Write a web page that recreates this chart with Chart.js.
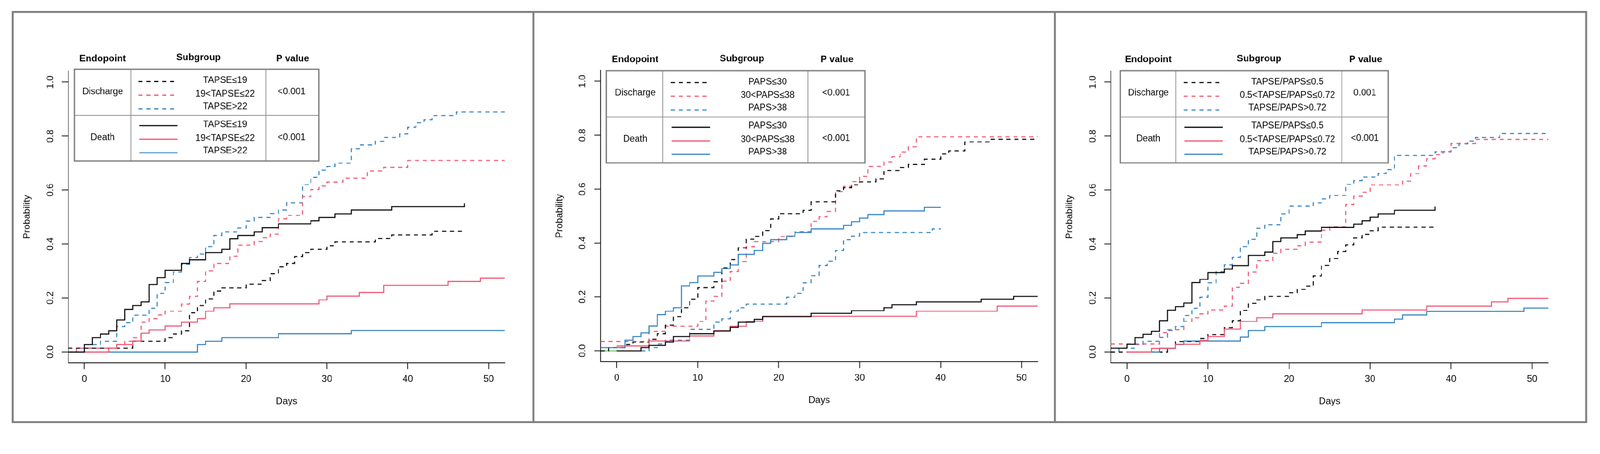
<!DOCTYPE html>
<html>
<head>
<meta charset="utf-8">
<script src="https://cdn.jsdelivr.net/npm/chart.js@4.4.0/dist/chart.umd.min.js"></script>
<style>
  html, body { margin: 0; padding: 0; background: #fff; overflow: hidden; }
  #wrap { width: 4248px; height: 1161px; position: absolute; left: 0; top: 0; transform-origin: 0 0; background: #fff; }
  canvas { position: absolute; top: 0; }
  .frame { position: absolute; border: 5px solid #808080; box-sizing: border-box; }
  .sep { position: absolute; top: 29px; width: 5px; height: 1093px; background: #808080; }
</style>
</head>
<body>
<div id="wrap">
<canvas id="c1" width="1417" height="1161" style="left:0px"></canvas>
<canvas id="c2" width="1384" height="1161" style="left:1417px"></canvas>
<canvas id="c3" width="1447" height="1161" style="left:2801px"></canvas>
<div class="frame" style="left:31px;top:29px;width:4183px;height:1093px"></div>
<div class="sep" style="left:1414px"></div>
<div class="sep" style="left:2798px"></div>
</div>
<script>
// fit the 4248x1161 drawing into whatever viewport we get
var SCALE = Math.min(window.innerWidth / 4248, window.innerHeight / 1161);
if (!(SCALE > 0)) SCALE = 1;
if (Math.abs(SCALE - 1) > 0.001) {
    document.getElementById("wrap").style.transform = "scale(" + SCALE + ")";
}

// ticks / labels
const xTicks = [0, 10, 20, 30, 40, 50];
const xTickLabels = ["0", "10", "20", "30", "40", "50"];
const yTicks = [0, 0.2, 0.4, 0.6, 0.8, 1.0];
const yTickLabels = ["0.0", "0.2", "0.4", "0.6", "0.8", "1.0"];
const xTitle = "Days";
const yTitle = "Probability";
const headers = ["Endopoint", "Subgroup", "P value"];
const rowNames = ["Discharge", "Death"];
const p1Groups = ["TAPSE≤19", "19<TAPSE≤22", "TAPSE>22"];
const p2Groups = ["PAPS≤30", "30<PAPS≤38", "PAPS>38"];
const p3Groups = ["TAPSE/PAPS≤0.5", "0.5<TAPSE/PAPS≤0.72", "TAPSE/PAPS>0.72"];
const p1P = ["<0.001", "<0.001"];
const p2P = ["<0.001", "<0.001"];
const p3P = ["0.001", "<0.001"];

// panel 1: TAPSE
const p1DisT1 = [-2, 6, 10, 11, 12, 13, 14, 15, 16, 17, 20, 22, 23, 24, 25, 26, 27, 28, 30, 31, 36, 38, 43, 47];
const p1DisV1 = [0.014, 0.040, 0.053, 0.066, 0.079, 0.145, 0.172, 0.197, 0.225, 0.238, 0.251, 0.264, 0.290, 0.316, 0.328, 0.354, 0.368, 0.380, 0.394, 0.408, 0.420, 0.434, 0.447, 0.447];
const p1DisT2 = [-2, -1, 4, 5, 6, 7, 8, 9, 10, 12, 13, 14, 15, 16, 18, 19, 21, 22, 23, 24, 25, 27, 28, 29, 30, 32, 35, 37, 40, 52];
const p1DisV2 = [0, 0.014, 0.027, 0.040, 0.053, 0.110, 0.124, 0.137, 0.151, 0.177, 0.206, 0.261, 0.300, 0.328, 0.355, 0.396, 0.409, 0.423, 0.437, 0.493, 0.506, 0.575, 0.602, 0.615, 0.630, 0.644, 0.671, 0.684, 0.710, 0.710];
const p1DisT3 = [-2, 0, 1, 2, 4, 5, 6, 8, 9, 10, 11, 12, 13, 14, 15, 16, 17, 19, 20, 21, 23, 24, 25, 27, 28, 29, 30, 31, 33, 34, 36, 37, 39, 40, 41, 42, 43, 46, 52];
const p1DisV3 = [0, 0.014, 0.027, 0.040, 0.094, 0.108, 0.136, 0.162, 0.217, 0.257, 0.296, 0.325, 0.350, 0.363, 0.391, 0.432, 0.445, 0.459, 0.485, 0.498, 0.513, 0.526, 0.553, 0.620, 0.647, 0.674, 0.687, 0.700, 0.753, 0.767, 0.781, 0.795, 0.808, 0.833, 0.849, 0.861, 0.876, 0.889, 0.889];
const p1DthT1 = [-2, 0, 1, 2, 3, 4, 5, 6, 7, 8, 9, 10, 12, 13, 15, 17, 18, 19, 21, 22, 24, 28, 29, 31, 33, 38, 47];
const p1DthV1 = [0, 0.027, 0.053, 0.066, 0.079, 0.119, 0.158, 0.172, 0.185, 0.250, 0.276, 0.302, 0.328, 0.341, 0.368, 0.380, 0.419, 0.432, 0.445, 0.460, 0.475, 0.486, 0.498, 0.512, 0.526, 0.538, 0.551];
const p1DthT2 = [-2, 3, 4, 6, 7, 8, 10, 12, 14, 15, 16, 18, 29, 30, 34, 37, 45, 49, 52];
const p1DthV2 = [0, 0.014, 0.027, 0.041, 0.069, 0.082, 0.096, 0.110, 0.124, 0.151, 0.164, 0.178, 0.193, 0.207, 0.220, 0.247, 0.261, 0.274, 0.274];
const p1DthT3 = [0, 14, 15, 17, 24, 33, 52];
const p1DthV3 = [0, 0.027, 0.040, 0.053, 0.067, 0.080, 0.080];

// panel 2: PAPS
const p2DisT1 = [-2, -1, 1, 2, 4, 5, 6, 7, 8, 9, 10, 12, 13, 14, 15, 16, 17, 18, 19, 20, 23, 24, 27, 28, 29, 30, 32, 33, 35, 36, 38, 40, 41, 43, 46, 52];
const p2DisV1 = [0, 0.012, 0.023, 0.032, 0.043, 0.063, 0.095, 0.127, 0.160, 0.192, 0.235, 0.256, 0.308, 0.338, 0.382, 0.414, 0.425, 0.446, 0.489, 0.509, 0.521, 0.553, 0.594, 0.605, 0.616, 0.627, 0.638, 0.669, 0.680, 0.691, 0.711, 0.730, 0.742, 0.775, 0.785, 0.785];
const p2DisT2 = [-2, 4, 6, 10, 11, 12, 13, 14, 15, 16, 17, 20, 22, 24, 25, 26, 27, 28, 29, 30, 31, 33, 34, 35, 36, 37, 52];
const p2DisV2 = [0.035, 0.073, 0.091, 0.109, 0.184, 0.202, 0.258, 0.294, 0.331, 0.387, 0.405, 0.424, 0.442, 0.480, 0.497, 0.517, 0.591, 0.610, 0.628, 0.647, 0.684, 0.701, 0.720, 0.738, 0.757, 0.794, 0.794];
const p2DisT3 = [3, 4, 5, 6, 9, 12, 13, 14, 15, 16, 21, 22, 23, 24, 25, 26, 27, 28, 29, 30, 39, 40];
const p2DisV3 = [0, 0.012, 0.025, 0.040, 0.080, 0.106, 0.119, 0.147, 0.160, 0.173, 0.199, 0.213, 0.252, 0.279, 0.317, 0.332, 0.372, 0.412, 0.426, 0.439, 0.452, 0.452];
const p2DthT1 = [0, 3, 4, 6, 7, 9, 12, 14, 15, 17, 18, 24, 29, 33, 34, 37, 45, 49, 52];
const p2DthV1 = [0, 0.012, 0.020, 0.033, 0.053, 0.063, 0.074, 0.087, 0.106, 0.117, 0.127, 0.139, 0.149, 0.160, 0.171, 0.181, 0.192, 0.202, 0.202];
const p2DthT2 = [0, 4, 9, 12, 14, 16, 18, 37, 47, 52];
const p2DthV2 = [0.018, 0.037, 0.055, 0.075, 0.091, 0.109, 0.128, 0.147, 0.166, 0.166];
const p2DthT3 = [-2, 1, 2, 3, 4, 5, 6, 7, 8, 9, 10, 12, 13, 14, 15, 17, 18, 19, 21, 22, 24, 28, 29, 30, 31, 33, 38, 40];
const p2DthV3 = [0.012, 0.040, 0.053, 0.066, 0.092, 0.134, 0.147, 0.160, 0.241, 0.253, 0.278, 0.291, 0.305, 0.319, 0.358, 0.372, 0.399, 0.412, 0.426, 0.439, 0.452, 0.466, 0.479, 0.492, 0.506, 0.519, 0.532, 0.532];
const p2ExtraT = [-2, 0];
const p2ExtraV = [0, 0];

// panel 3: TAPSE/PAPS
const p3DisT1 = [-2, 5, 6, 9, 10, 12, 13, 14, 15, 16, 17, 20, 21, 22, 23, 24, 25, 26, 27, 28, 29, 30, 31, 38];
const p3DisV1 = [0, 0.013, 0.039, 0.050, 0.064, 0.090, 0.116, 0.154, 0.180, 0.193, 0.206, 0.219, 0.232, 0.244, 0.282, 0.321, 0.346, 0.372, 0.397, 0.422, 0.436, 0.449, 0.462, 0.462];
const p3DisT2 = [-2, 4, 5, 7, 8, 9, 10, 12, 13, 14, 15, 16, 18, 19, 21, 22, 24, 25, 27, 28, 29, 30, 34, 35, 36, 37, 38, 39, 40, 43, 52];
const p3DisV2 = [0.029, 0.071, 0.083, 0.113, 0.127, 0.141, 0.156, 0.170, 0.240, 0.254, 0.296, 0.338, 0.366, 0.380, 0.394, 0.407, 0.451, 0.464, 0.547, 0.577, 0.592, 0.619, 0.633, 0.661, 0.689, 0.716, 0.731, 0.743, 0.772, 0.788, 0.788];
const p3DisT3 = [-2, -1, 1, 2, 4, 5, 6, 7, 8, 9, 10, 11, 12, 13, 14, 15, 16, 17, 19, 20, 23, 24, 25, 27, 28, 29, 31, 32, 33, 38, 40, 41, 42, 43, 46, 52];
const p3DisV3 = [0, 0.014, 0.027, 0.040, 0.054, 0.080, 0.094, 0.135, 0.162, 0.203, 0.256, 0.297, 0.323, 0.351, 0.391, 0.417, 0.458, 0.472, 0.512, 0.540, 0.553, 0.567, 0.580, 0.621, 0.635, 0.648, 0.662, 0.676, 0.728, 0.742, 0.757, 0.771, 0.782, 0.795, 0.809, 0.809];
const p3DthT1 = [-2, 0, 1, 2, 3, 4, 5, 6, 7, 8, 9, 10, 12, 13, 15, 17, 18, 19, 21, 22, 24, 28, 29, 30, 31, 33, 38];
const p3DthV1 = [0.014, 0.028, 0.053, 0.065, 0.077, 0.116, 0.155, 0.168, 0.181, 0.257, 0.269, 0.294, 0.307, 0.320, 0.358, 0.370, 0.409, 0.422, 0.435, 0.448, 0.461, 0.474, 0.486, 0.499, 0.512, 0.525, 0.538];
const p3DthT2 = [0, 3, 6, 9, 10, 12, 14, 16, 18, 29, 37, 45, 47, 52];
const p3DthV2 = [0, 0.013, 0.028, 0.043, 0.057, 0.085, 0.113, 0.127, 0.141, 0.156, 0.170, 0.185, 0.199, 0.199];
const p3DthT3 = [0, 4, 6, 7, 14, 15, 17, 24, 33, 34, 37, 49, 52];
const p3DthV3 = [0, 0.014, 0.027, 0.041, 0.055, 0.080, 0.094, 0.108, 0.122, 0.137, 0.150, 0.163, 0.163];

const colBlack = "#000000";
const colRed = "#F0506E";
const colBlue = "#2B7EC1";
const colGreen = "#61D04F";
const lineColors = [colBlack, colRed, colBlue];
const FONT = '"Liberation Sans", Arial, sans-serif';

function km(t, v, color, dashed) {
    return {
        data: t.map(function (x, i) { return { x: x, y: v[i] }; }),
        borderColor: color,
        borderWidth: 2.7,
        borderDash: dashed ? [11, 10] : [],
        borderCapStyle: "butt",
        borderJoinStyle: "miter",
        stepped: true,
        pointRadius: 0,
        fill: false,
        tension: 0,
    };
}

// draws tick labels, axis titles and the legend table
const kmText = {
    id: "kmText",
    afterDraw: function (chart, args, o) {
        var ctx = chart.ctx;
        var a = chart.chartArea;
        var sx = chart.scales.x;
        var sy = chart.scales.y;
        ctx.save();
        ctx.fillStyle = "#000";
        ctx.textAlign = "center";
        ctx.textBaseline = "middle";
        ctx.font = "25px " + FONT;
        for (var i = 0; i < xTicks.length; i++) {
            ctx.fillText(xTickLabels[i], sx.getPixelForValue(xTicks[i]), a.bottom + 44);
        }
        for (var j = 0; j < yTicks.length; j++) {
            ctx.save();
            ctx.translate(a.left - 47, sy.getPixelForValue(yTicks[j]));
            ctx.rotate(-Math.PI / 2);
            ctx.fillText(yTickLabels[j], 0, 0);
            ctx.restore();
        }
        ctx.fillText(xTitle, (a.left + a.right) / 2, a.bottom + 103);
        ctx.save();
        ctx.translate(a.left - 109, (a.top + a.bottom) / 2);
        ctx.rotate(-Math.PI / 2);
        ctx.fillText(yTitle, 0, 0);
        ctx.restore();

        var L = o.table;
        var X = function (v) { return v - o.offset; };
        ctx.font = "bold 25px " + FONT;
        headers.forEach(function (h, k) { ctx.fillText(h, X(L.hx[k]), L.hy[k]); });
        ctx.strokeStyle = "#8c8c8c";
        ctx.lineWidth = 2;
        ctx.beginPath();
        ctx.moveTo(X(L.l), L.mid); ctx.lineTo(X(L.r), L.mid);
        ctx.moveTo(X(L.d1), L.t); ctx.lineTo(X(L.d1), L.b);
        ctx.moveTo(X(L.d2), L.t); ctx.lineTo(X(L.d2), L.b);
        ctx.stroke();
        ctx.strokeStyle = "#808080";
        ctx.lineWidth = 3.5;
        ctx.strokeRect(X(L.l), L.t, L.r - L.l, L.b - L.t);
        ctx.font = "24px " + FONT;
        rowNames.forEach(function (r, k) { ctx.fillText(r, X(L.cx), L.ry[k]); });
        for (var k = 0; k < 6; k++) ctx.fillText(o.groups[k % 3], X(L.sx), L.sy[k]);
        o.pvals.forEach(function (p, k) { ctx.fillText(p, X(L.px), L.py[k]); });
        lineColors.forEach(function (c, k) {
            ctx.strokeStyle = c;
            ctx.lineWidth = 3;
            ctx.setLineDash([11, 10]);
            ctx.beginPath(); ctx.moveTo(X(L.dx[0]), L.dy[k]); ctx.lineTo(X(L.dx[1]), L.dy[k]); ctx.stroke();
            ctx.setLineDash([]);
            ctx.beginPath(); ctx.moveTo(X(L.lx[0]), L.ly[k]); ctx.lineTo(X(L.lx[1]), L.ly[k]); ctx.stroke();
        });
        ctx.restore();
    },
};

function makeChart(id, datasets, pad, offset, table, groups, pvals) {
    var axisGrid = { display: true, drawOnChartArea: false, drawTicks: true, tickLength: 17, tickWidth: 2, tickColor: "#000", color: "#000" };
    return new Chart(document.getElementById(id), {
        type: "line",
        data: { datasets: datasets },
        plugins: [kmText],
        options: {
            responsive: false,
            animation: false,
            devicePixelRatio: SCALE,
            layout: { padding: pad },
            plugins: {
                legend: { display: false },
                tooltip: { enabled: false },
                kmText: { offset: offset, table: table, groups: groups, pvals: pvals },
            },
            scales: {
                x: {
                    type: "linear", min: -2, max: 52,
                    afterBuildTicks: function (s) { s.ticks = xTicks.map(function (v) { return { value: v }; }); },
                    afterFit: function (s) { s.height = 0; },
                    ticks: { display: false },
                    grid: axisGrid,
                    border: { display: true, color: "#000", width: 2 },
                },
                y: {
                    type: "linear", min: -0.04, max: 1.04,
                    afterBuildTicks: function (s) { s.ticks = yTicks.map(function (v) { return { value: v }; }); },
                    afterFit: function (s) { s.width = 0; },
                    ticks: { display: false },
                    grid: axisGrid,
                    border: { display: true, color: "#000", width: 2 },
                },
            },
        },
    });
}

makeChart("c1", [
    km(p1DthT1, p1DthV1, colBlack, false),
    km(p1DthT2, p1DthV2, colRed, false),
    km(p1DthT3, p1DthV3, colBlue, false),
    km(p1DisT1, p1DisV1, colBlack, true),
    km(p1DisT2, p1DisV2, colRed, true),
    km(p1DisT3, p1DisV3, colBlue, true),
], { left: 181, right: 77, top: 189.1, bottom: 199.4 }, 0, {
    l: 197.5, r: 846, t: 184, b: 426.5, mid: 306, d1: 347, d2: 705.5,
    hx: [272.5, 527, 776.8], hy: [155.5, 152.7, 155.5],
    cx: 272.5, ry: [243.5, 365],
    sx: 597.5, sy: [213.3, 249.2, 282.5, 330.3, 366.7, 400],
    dx: [367.4, 462.5], dy: [216.3, 252.3, 288.3],
    lx: [369.6, 471.4], ly: [333, 369, 405],
    px: 774, py: [243.3, 364.3],
}, p1Groups, p1P);

makeChart("c2", [
    km(p2DthT1, p2DthV1, colBlack, false),
    km(p2DthT2, p2DthV2, colRed, false),
    km(p2DthT3, p2DthV3, colBlue, false),
    km(p2DisT1, p2DisV1, colBlack, true),
    km(p2DisT2, p2DisV2, colRed, true),
    km(p2DisT3, p2DisV3, colBlue, true),
    km(p2ExtraT, p2ExtraV, colGreen, false),
], { left: 177.4, right: 46.1, top: 186.9, bottom: 202.4 }, 1417, {
    l: 1610, r: 2296, t: 187.7, b: 431.7, mid: 310, d1: 1759.4, d2: 2145,
    hx: [1686, 1969.8, 2222], hy: [158, 156.3, 158],
    cx: 1686.4, ry: [246.7, 368.3],
    sx: 2037.8, sy: [217.3, 252.7, 286, 333.7, 370, 402.7],
    dx: [1780.9, 1876.6], dy: [219, 255, 291.3],
    lx: [1783.3, 1884.7], ly: [337.3, 373.3, 409.3],
    px: 2219.7, py: [246, 366.7],
}, p2Groups, p2P);

makeChart("c3", [
    km(p3DthT1, p3DthV1, colBlack, false),
    km(p3DthT2, p3DthV2, colRed, false),
    km(p3DthT3, p3DthV3, colBlue, false),
    km(p3DisT1, p3DisV1, colBlack, true),
    km(p3DisT2, p3DisV2, colRed, true),
    km(p3DisT3, p3DisV3, colBlue, true),
], { left: 148.1, right: 137.4, top: 189.1, bottom: 199.4 }, 2801, {
    l: 2974, r: 3685.7, t: 187.7, b: 431.7, mid: 310, d1: 3121.9, d2: 3562.2,
    hx: [3048.7, 3342.9, 3625.8], hy: [158, 156.3, 158],
    cx: 3048.7, ry: [246.7, 368],
    sx: 3418, sy: [217.3, 252.7, 286, 333.7, 370, 402.7],
    dx: [3142.3, 3237.2], dy: [219, 255, 291.3],
    lx: [3144.4, 3246.4], ly: [337.3, 373.3, 409.3],
    px: 3623.5, py: [246, 366.7],
}, p3Groups, p3P);
</script>
</body>
</html>
